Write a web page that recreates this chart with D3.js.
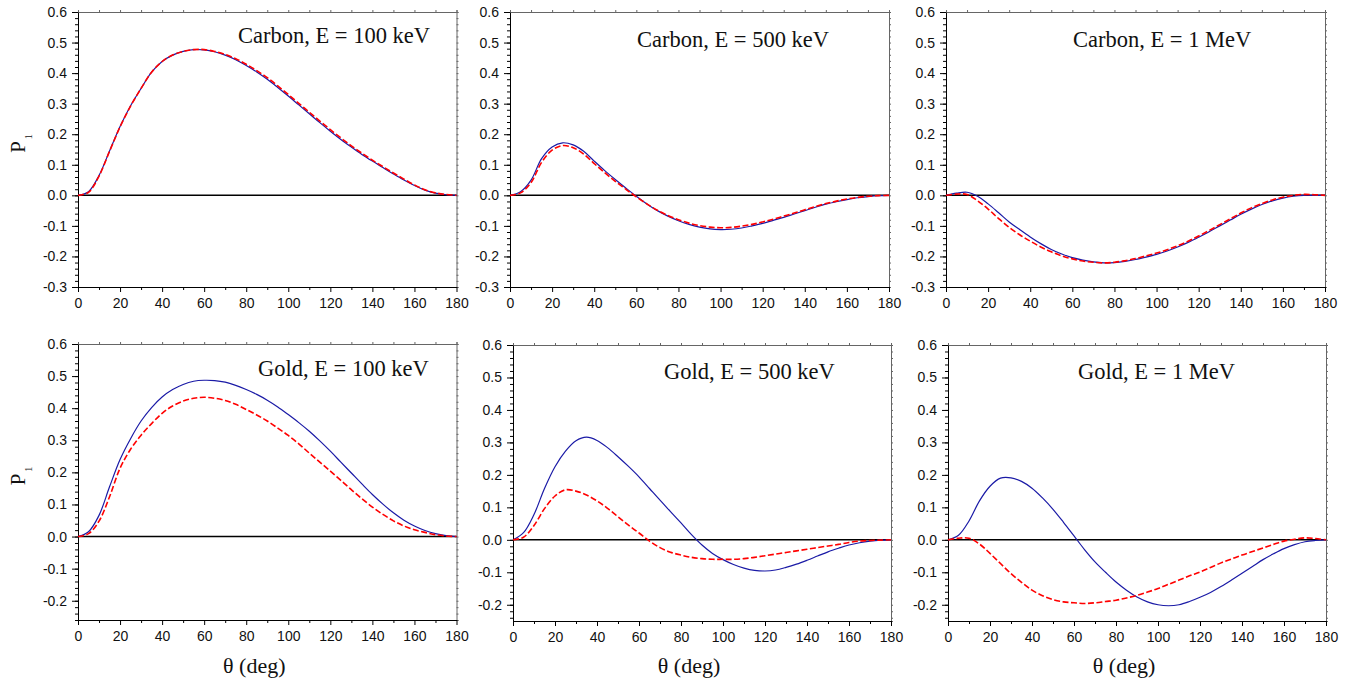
<!DOCTYPE html>
<html>
<head>
<meta charset="utf-8">
<script src="https://cdn.jsdelivr.net/npm/d3@7"></script>
<style>
  body { margin: 0; background: #fff; }
</style>
</head>
<body>
<div id="chart"></div>
<script>
// scattering angle grid (deg)
const theta = [0,5,10,15,20,25,30,35,40,45,50,55,60,65,70,75,80,85,90,95,100,105,110,115,120,125,130,135,140,145,150,155,160,165,170,175,180];

const titles = ["Carbon, E = 100 keV", "Carbon, E = 500 keV", "Carbon, E = 1 MeV",
                "Gold, E = 100 keV", "Gold, E = 500 keV", "Gold, E = 1 MeV"];

const yMin = [-0.3, -0.3, -0.3, -0.26, -0.25, -0.25];
const yMax = 0.6;
const xTicks = [0,20,40,60,80,100,120,140,160,180];
const yTicksTop = [-0.3,-0.2,-0.1,0,0.1,0.2,0.3,0.4,0.5,0.6];
const yTicksBottom = [-0.2,-0.1,0,0.1,0.2,0.3,0.4,0.5,0.6];

// blue solid / red dashed curves, P1 vs theta
const carbon100Blue = [0,0.012,0.065,0.145,0.225,0.293,0.35,0.403,0.438,0.459,0.471,0.477,0.476,0.47,0.459,0.444,0.425,0.404,0.38,0.353,0.325,0.296,0.267,0.238,0.21,0.183,0.158,0.134,0.112,0.091,0.07,0.05,0.032,0.017,0.007,0.002,0];
const carbon100Red  = [0,0.01,0.063,0.144,0.224,0.292,0.35,0.403,0.438,0.459,0.471,0.477,0.477,0.471,0.461,0.447,0.429,0.408,0.385,0.358,0.33,0.301,0.272,0.243,0.215,0.188,0.162,0.138,0.115,0.094,0.073,0.053,0.034,0.018,0.008,0.003,0];

const carbon500Blue = [0,0.012,0.05,0.12,0.158,0.172,0.165,0.144,0.112,0.081,0.052,0.024,-0.003,-0.028,-0.05,-0.068,-0.083,-0.095,-0.104,-0.11,-0.112,-0.111,-0.107,-0.1,-0.092,-0.082,-0.072,-0.061,-0.05,-0.039,-0.029,-0.021,-0.014,-0.008,-0.004,-0.001,0];
const carbon500Red  = [0,0.008,0.042,0.108,0.148,0.163,0.156,0.135,0.104,0.074,0.046,0.02,-0.005,-0.028,-0.049,-0.066,-0.08,-0.091,-0.099,-0.104,-0.106,-0.105,-0.101,-0.095,-0.087,-0.078,-0.068,-0.058,-0.047,-0.037,-0.027,-0.019,-0.012,-0.007,-0.003,-0.001,0];

const carbon1Blue = [0,0.007,0.01,-0.003,-0.028,-0.057,-0.087,-0.112,-0.136,-0.158,-0.177,-0.192,-0.204,-0.212,-0.218,-0.221,-0.22,-0.216,-0.21,-0.202,-0.193,-0.182,-0.169,-0.154,-0.137,-0.119,-0.1,-0.081,-0.062,-0.045,-0.03,-0.018,-0.009,-0.003,0,0,0];
const carbon1Red  = [0,0.004,0.003,-0.018,-0.045,-0.076,-0.105,-0.129,-0.15,-0.169,-0.185,-0.198,-0.208,-0.215,-0.219,-0.221,-0.219,-0.214,-0.207,-0.198,-0.189,-0.178,-0.165,-0.15,-0.133,-0.115,-0.096,-0.077,-0.058,-0.041,-0.027,-0.015,-0.006,0,0.003,0.002,0];

const gold100Blue = [0,0.015,0.066,0.155,0.24,0.305,0.36,0.402,0.435,0.458,0.474,0.484,0.487,0.486,0.481,0.471,0.458,0.443,0.425,0.404,0.38,0.355,0.328,0.298,0.266,0.232,0.198,0.164,0.131,0.101,0.074,0.051,0.033,0.019,0.009,0.003,0];
const gold100Red  = [0,0.009,0.048,0.124,0.213,0.272,0.316,0.352,0.384,0.407,0.422,0.431,0.434,0.431,0.424,0.412,0.396,0.379,0.36,0.338,0.315,0.289,0.26,0.232,0.204,0.175,0.146,0.118,0.092,0.069,0.049,0.033,0.021,0.013,0.006,0.002,0];

const gold500Blue = [0,0.022,0.078,0.158,0.225,0.273,0.305,0.316,0.306,0.284,0.256,0.226,0.194,0.158,0.122,0.087,0.052,0.016,-0.016,-0.042,-0.061,-0.076,-0.087,-0.094,-0.096,-0.093,-0.085,-0.075,-0.063,-0.05,-0.037,-0.026,-0.016,-0.009,-0.004,-0.001,0];
const gold500Red  = [0,0.008,0.044,0.096,0.135,0.154,0.15,0.138,0.12,0.097,0.071,0.045,0.021,-0.004,-0.024,-0.038,-0.047,-0.054,-0.058,-0.06,-0.06,-0.06,-0.058,-0.054,-0.049,-0.044,-0.039,-0.034,-0.029,-0.024,-0.019,-0.014,-0.008,-0.004,-0.002,-0.001,0];

const gold1Blue = [0,0.014,0.058,0.12,0.165,0.19,0.191,0.18,0.159,0.129,0.094,0.054,0.012,-0.03,-0.068,-0.1,-0.13,-0.155,-0.176,-0.191,-0.2,-0.203,-0.2,-0.19,-0.177,-0.162,-0.144,-0.124,-0.103,-0.082,-0.061,-0.043,-0.027,-0.015,-0.006,-0.002,0];
const gold1Red  = [0,0.005,0.005,-0.013,-0.042,-0.073,-0.104,-0.131,-0.155,-0.172,-0.184,-0.191,-0.194,-0.196,-0.194,-0.19,-0.186,-0.179,-0.171,-0.161,-0.15,-0.137,-0.124,-0.111,-0.099,-0.085,-0.071,-0.059,-0.047,-0.036,-0.025,-0.014,-0.004,0.002,0.006,0.004,0];

const blueSeries = [carbon100Blue, carbon500Blue, carbon1Blue, gold100Blue, gold500Blue, gold1Blue];
const redSeries  = [carbon100Red, carbon500Red, carbon1Red, gold100Red, gold500Red, gold1Red];

// panel frames in page pixels
const frames = [
  {x0: 78,  x1: 456.5, y0: 12,  y1: 287, tx: 238,  ty: 43},
  {x0: 510, x1: 889,   y0: 12,  y1: 287, tx: 637,  ty: 47},
  {x0: 946, x1: 1325,  y0: 12,  y1: 287, tx: 1073, ty: 47},
  {x0: 78,  x1: 456.5, y0: 344, y1: 620, tx: 258,  ty: 376},
  {x0: 513, x1: 891,   y0: 345, y1: 621, tx: 664,  ty: 379},
  {x0: 948, x1: 1326,  y0: 345, y1: 621, tx: 1078, ty: 379}
];

const width = 1362, height = 688;
const svg = d3.select('#chart').append('svg')
  .attr('width', width)
  .attr('height', height)
  .style('background', '#fff');

const tickFont = '"Liberation Sans", Arial, sans-serif';
const serif = '"Liberation Serif", "Times New Roman", serif';
const fmt = d => d.toFixed(1);

frames.forEach(function (f, i) {
  let x = d3.scaleLinear().domain([0, 180]).range([f.x0, f.x1]);
  let y = d3.scaleLinear().domain([yMin[i], yMax]).range([f.y1, f.y0]);
  let yMajor = i < 3 ? yTicksTop : yTicksBottom;
  let yMinor = d3.range(Math.ceil(yMin[i] * 50 - 1e-9), 31).map(k => k / 50);
  let xMinor = d3.range(10, 180, 20);

  let g = svg.append('g');

  // top and right frame with small ticks
  g.append('g')
    .attr('transform', 'translate(0,' + f.y0 + ')')
    .call(d3.axisTop(x).tickValues(d3.range(0, 181, 10)).tickSize(2).tickFormat(''))
    .call(a => a.selectAll('line,path').attr('stroke', '#666'));
  g.append('g')
    .attr('transform', 'translate(' + f.x1 + ',0)')
    .call(d3.axisRight(y).tickValues(yMinor).tickSize(2).tickFormat(''))
    .call(a => a.selectAll('line,path').attr('stroke', '#666'));

  // minor ticks
  g.append('g')
    .attr('transform', 'translate(' + f.x0 + ',0)')
    .call(d3.axisLeft(y).tickValues(yMinor).tickSize(3).tickFormat(''))
    .call(a => a.select('.domain').remove());
  g.append('g')
    .attr('transform', 'translate(0,' + f.y1 + ')')
    .call(d3.axisBottom(x).tickValues(xMinor).tickSize(3).tickFormat(''))
    .call(a => a.select('.domain').remove());

  // major axes
  let yAxis = g.append('g')
    .attr('transform', 'translate(' + f.x0 + ',0)')
    .call(d3.axisLeft(y).tickValues(yMajor).tickSize(6).tickSizeOuter(0).tickPadding(5).tickFormat(fmt));
  let xAxis = g.append('g')
    .attr('transform', 'translate(0,' + f.y1 + ')')
    .call(d3.axisBottom(x).tickValues(xTicks).tickSize(5).tickSizeOuter(0).tickPadding(6));
  [yAxis, xAxis].forEach(a => a.selectAll('text')
    .attr('font-family', tickFont).attr('font-size', 14).attr('fill', '#111'));

  // zero line
  g.append('line')
    .attr('x1', x(0)).attr('x2', x(180))
    .attr('y1', y(0)).attr('y2', y(0))
    .attr('stroke', '#000').attr('stroke-width', 1.5);

  let line = d3.line()
    .x((d, k) => x(theta[k]))
    .y(d => y(d))
    .curve(d3.curveCatmullRom.alpha(0.5));

  g.append('path')
    .datum(blueSeries[i])
    .attr('fill', 'none')
    .attr('stroke', '#1a1aa6')
    .attr('stroke-width', 1.2)
    .attr('d', line);

  g.append('path')
    .datum(redSeries[i])
    .attr('fill', 'none')
    .attr('stroke', '#ff0000')
    .attr('stroke-width', 1.6)
    .attr('stroke-dasharray', '6,2.5')
    .attr('d', line);

  // panel title
  g.append('text')
    .attr('x', f.tx).attr('y', f.ty)
    .attr('font-family', serif)
    .attr('font-size', 22.5)
    .attr('fill', '#111')
    .text(titles[i]);

  // y label for left column
  if (i % 3 === 0) {
    let cy = (f.y0 + f.y1) / 2 - 6;
    let t = g.append('text')
      .attr('transform', 'translate(25,' + cy + ') rotate(-90)')
      .attr('text-anchor', 'middle')
      .attr('font-family', serif)
      .attr('font-size', 21)
      .attr('fill', '#111');
    t.append('tspan').text('P');
    t.append('tspan').attr('font-size', 10).attr('dy', 7).attr('dx', 2).text('1');
  }

  // x label for bottom row
  if (i >= 3) {
    g.append('text')
      .attr('x', (f.x0 + f.x1) / 2 - 13)
      .attr('y', 673)
      .attr('text-anchor', 'middle')
      .attr('font-family', serif)
      .attr('font-size', 22)
      .attr('fill', '#111')
      .text('θ (deg)');
  }
});
</script>
</body>
</html>
